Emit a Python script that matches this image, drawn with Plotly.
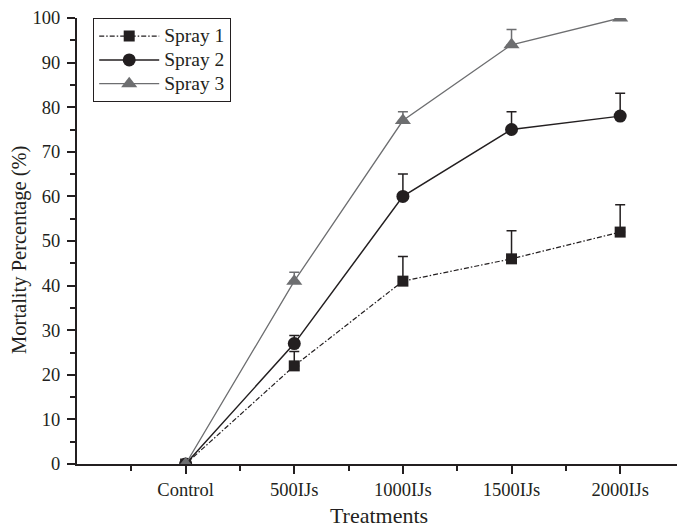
import plotly.graph_objects as go

categories = ["Control", "500IJs", "1000IJs", "1500IJs", "2000IJs"]
spray1 = [0, 22, 41, 46, 52]
spray1_err = [0, 3.2, 5.5, 6.3, 6.1]
spray2 = [0, 27, 60, 75, 78]
spray2_err = [0, 1.8, 5.0, 4.0, 5.1]
spray3 = [0, 41, 77, 94, 100]
spray3_err = [0, 2.0, 2.0, 3.4, 0]
series_names = ["Spray 1", "Spray 2", "Spray 3"]

x = list(range(len(categories)))
FONT = "Liberation Serif, Times New Roman, serif"
INK = "#231f20"
GREY = "#6d6e70"


def legend_label(s):
    return "<span style='font-size:19.5px'>" + s + "</span>"


fig = go.Figure()
fig.add_trace(go.Scatter(
    x=x, y=spray1, name=legend_label(series_names[0]), mode="lines+markers",
    line=dict(color=INK, width=1.2, dash="5px,2px,1.5px,2px"),
    marker=dict(symbol="square", size=11, color=INK),
    error_y=dict(type="data", array=spray1_err, arrayminus=[0]*5, symmetric=False,
                 color=INK, thickness=1.5, width=5),
))
fig.add_trace(go.Scatter(
    x=x, y=spray2, name=legend_label(series_names[1]), mode="lines+markers",
    line=dict(color=INK, width=1.5),
    marker=dict(symbol="circle", size=13, color=INK),
    error_y=dict(type="data", array=spray2_err, arrayminus=[0]*5, symmetric=False,
                 color=INK, thickness=1.5, width=5),
))
fig.add_trace(go.Scatter(
    x=x, y=spray3, name=legend_label(series_names[2]), mode="lines+markers",
    line=dict(color=GREY, width=1.3),
    marker=dict(symbol="triangle-up", size=14, color=GREY),
    error_y=dict(type="data", array=spray3_err, arrayminus=[0]*5, symmetric=False,
                 color=GREY, thickness=1.5, width=5),
))

fig.update_layout(
    width=677, height=520,
    margin=dict(l=69, r=4, t=10, b=64),
    paper_bgcolor="white", plot_bgcolor="white",
    font=dict(family=FONT, size=18, color=INK),
    showlegend=True,
    legend=dict(
        x=0.0265, y=1.0, xanchor="left", yanchor="top",
        bgcolor="white", bordercolor=INK, borderwidth=1.2,
        font=dict(family=FONT, size=16, color=INK),
        tracegroupgap=0, itemwidth=60,
    ),
    xaxis=dict(
        range=[-1, 4.56], tickmode="array", tickvals=x, ticktext=categories,
        automargin=False,
        showline=True, linecolor=INK, linewidth=2,
        ticks="outside", ticklen=8, tickwidth=1.5, tickcolor=INK,
        minor=dict(tickvals=[-0.5, 0.5, 1.5, 2.5, 3.5], ticks="outside",
                   ticklen=5, tickwidth=1.5, tickcolor=INK),
        showgrid=False, zeroline=False,
        tickfont=dict(family=FONT, size=18.5),
        title=dict(text="Treatments", font=dict(family=FONT, size=22), standoff=8),
    ),
    yaxis=dict(
        range=[0, 100], dtick=10, tick0=0,
        automargin=False,
        showline=True, linecolor=INK, linewidth=2,
        ticks="outside", ticklen=8, tickwidth=1.5, tickcolor=INK,
        ticklabeloverflow="allow", ticklabelstandoff=3,
        minor=dict(dtick=5, ticks="outside", ticklen=5, tickwidth=1.5, tickcolor=INK),
        showgrid=False, zeroline=False,
        tickfont=dict(family=FONT, size=18.5),
    ),
    annotations=[dict(
        text="Mortality Percentage (%)", textangle=-90,
        xref="paper", yref="paper", x=0, y=0.48,
        xanchor="center", yanchor="middle", xshift=-57, showarrow=False,
        font=dict(family=FONT, size=20.5, color=INK),
    )],
)

fig.write_html("out.html")
